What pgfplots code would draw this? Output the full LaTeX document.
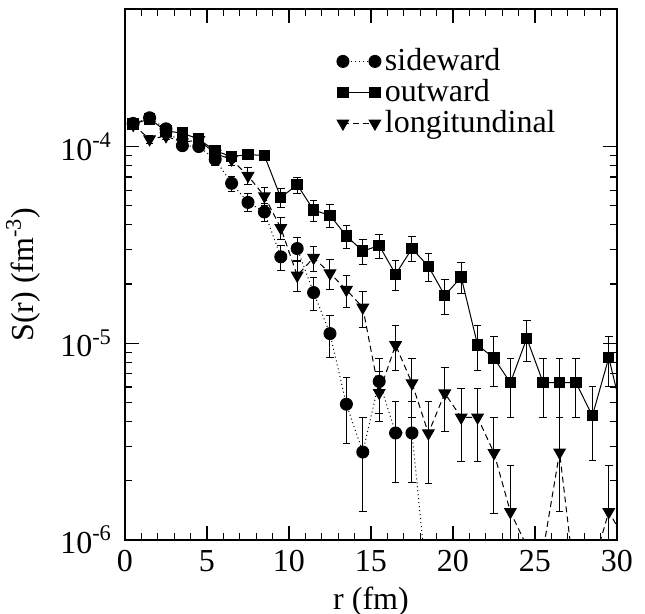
\documentclass[border=0pt]{standalone}
\usepackage{fontspec}
\setmainfont{Liberation Serif}
\usepackage{pgfplots}
\pgfplotsset{compat=1.18}
\usepackage{pgfplotstable}

\pgfplotstableread{
x y e
0.5 1.31e-4 5e-6
1.5 1.40e-4 5e-6
2.5 1.23e-4 5e-6
3.5 1.01e-4 5e-6
4.5 1.00e-4 5e-6
5.5 8.6e-5 5.5e-6
6.5 6.5e-5 5.7e-6
7.5 5.2e-5 5.5e-6
8.5 4.65e-5 5e-6
9.5 2.75e-5 4e-6
10.5 3.03e-5 4e-6
11.5 1.81e-5 3.5e-6
12.5 1.12e-5 2.7e-6
13.5 4.9e-6 1.8e-6
14.5 2.8e-6 1.4e-6
15.5 6.4e-6 2e-6
16.5 3.5e-6 1.55e-6
17.5 3.5e-6 1.55e-6
18.5 5.1e-7 0
}\side

\pgfplotstableread{
x y e
0.5 1.30e-4 5e-6
1.5 1.38e-4 5e-6
2.5 1.20e-4 5e-6
3.5 1.17e-4 6e-6
4.5 1.09e-4 6e-6
5.5 9.5e-5 5.5e-6
6.5 8.9e-5 5.5e-6
7.5 9.1e-5 5.5e-6
8.5 9.0e-5 5.5e-6
9.5 5.5e-5 6e-6
10.5 6.4e-5 6e-6
11.5 4.75e-5 5.9e-6
12.5 4.47e-5 5.9e-6
13.5 3.51e-5 4.7e-6
14.5 2.94e-5 4.4e-6
15.5 3.14e-5 4.5e-6
16.5 2.24e-5 3.9e-6
17.5 3.03e-5 4.4e-6
18.5 2.46e-5 4e-6
19.5 1.75e-5 3.5e-6
20.5 2.17e-5 3.9e-6
21.5 9.8e-6 2.5e-6
22.5 8.4e-6 2.4e-6
23.5 6.3e-6 2.1e-6
24.5 1.06e-5 2.5e-6
25.5 6.3e-6 2.1e-6
26.5 6.3e-6 2.1e-6
27.5 6.3e-6 2.1e-6
28.5 4.28e-6 1.75e-6
29.5 8.45e-6 2.4e-6
30.5 3.8e-6 1.6e-6
}\outw

\pgfplotstableread{
x y e
0.5 1.29e-4 5e-6
1.5 1.09e-4 5e-6
2.5 1.13e-4 5e-6
3.5 1.05e-4 5e-6
4.5 1.08e-4 6e-6
5.5 9.2e-5 6e-6
6.5 8.6e-5 6e-6
7.5 7.1e-5 7e-6
8.5 5.6e-5 6e-6
9.5 3.86e-5 5e-6
10.5 2.21e-5 3.8e-6
11.5 2.72e-5 4e-6
12.5 2.27e-5 4e-6
13.5 1.87e-5 3.5e-6
14.5 1.52e-5 3.2e-6
15.5 5.6e-6 1.6e-6
16.5 9.8e-6 2.5e-6
17.5 6.27e-6 2.1e-6
18.5 3.49e-6 1.55e-6
19.5 5.57e-6 2e-6
20.5 4.2e-6 1.7e-6
21.5 4.2e-6 1.7e-6
22.5 2.77e-6 1.4e-6
23.5 1.39e-6 1.0e-6
24.5 9.3e-7 0
25.5 8.9e-7 0
26.5 2.79e-6 1.4e-6
27.5 5.5e-7 0
28.5 7.2e-7 0
29.5 1.39e-6 1.0e-6
30.5 1.0e-6 0
}\longi

\begin{document}
\fontsize{16}{19}\selectfont
\begin{tikzpicture}
\path[use as bounding box] (-62.5pt,-37pt) rectangle (260pt,270pt);
\begin{axis}[
  at={(0pt,0pt)}, anchor=south west,
  scale only axis, width=246pt, height=265.5pt,
  ymode=log, xmin=0, xmax=30, ymin=1e-6, ymax=5e-4,
  xtick={0,5,...,30}, minor x tick num=4,
  ytick={1e-6,1e-5,1e-4},
  yticklabels={10\textsuperscript{-6},10\textsuperscript{-5},10\textsuperscript{-4}},
  /pgf/number format/assume math mode=true,
  xticklabel style={inner sep=0pt, yshift=-5pt},
  yticklabel style={xshift=-1pt},
  tick align=inside, major tick length=7pt, minor tick length=3.5pt,
  every tick/.style={black, line width=0.6pt},
  axis line style={line width=1pt},
  xlabel={r (fm)}, ylabel={S(r) (fm\textsuperscript{-3})},
  xlabel style={at={(axis description cs:0.5,0)}, anchor=base, yshift=-34.5pt, inner sep=0pt},
  ylabel style={at={(axis description cs:-0.15,0.5)}, anchor=south},
  clip marker paths=true,
  legend style={draw=none, fill=none, at={(axis description cs:0.43,0.935)}, anchor=north west, row sep=-2pt, inner sep=0pt},
  legend cell align=left,
  legend image code/.code={\draw[#1, mark repeat=1] plot coordinates {(0pt,0pt) (16pt,0pt)};},
  every axis plot/.append style={
    error bars/y dir=both, error bars/y explicit,
    error bars/error bar style={line width=0.5pt, black, solid},
    error bars/error mark options={rotate=90, mark size=1.9pt, line width=0.5pt, black, solid}},
]
\addplot[black, line width=0.5pt, dash pattern=on 0.5pt off 1.5pt, mark=*, mark size=3pt, mark options={solid}]
  table[x=x, y=y, y error=e] {\side};
\addlegendentry{sideward}
\addplot[black, line width=0.5pt, solid, mark=square*, mark size=2.6pt, mark options={solid}]
  table[x=x, y=y, y error=e] {\outw};
\addlegendentry{outward}
\addplot[black, line width=0.5pt, dash pattern=on 3pt off 2pt, mark=triangle*, mark size=3.3pt, mark options={solid, rotate=180}]
  table[x=x, y=y, y error=e] {\longi};
\addlegendentry{longitundinal}
\end{axis}
\end{tikzpicture}
\end{document}
